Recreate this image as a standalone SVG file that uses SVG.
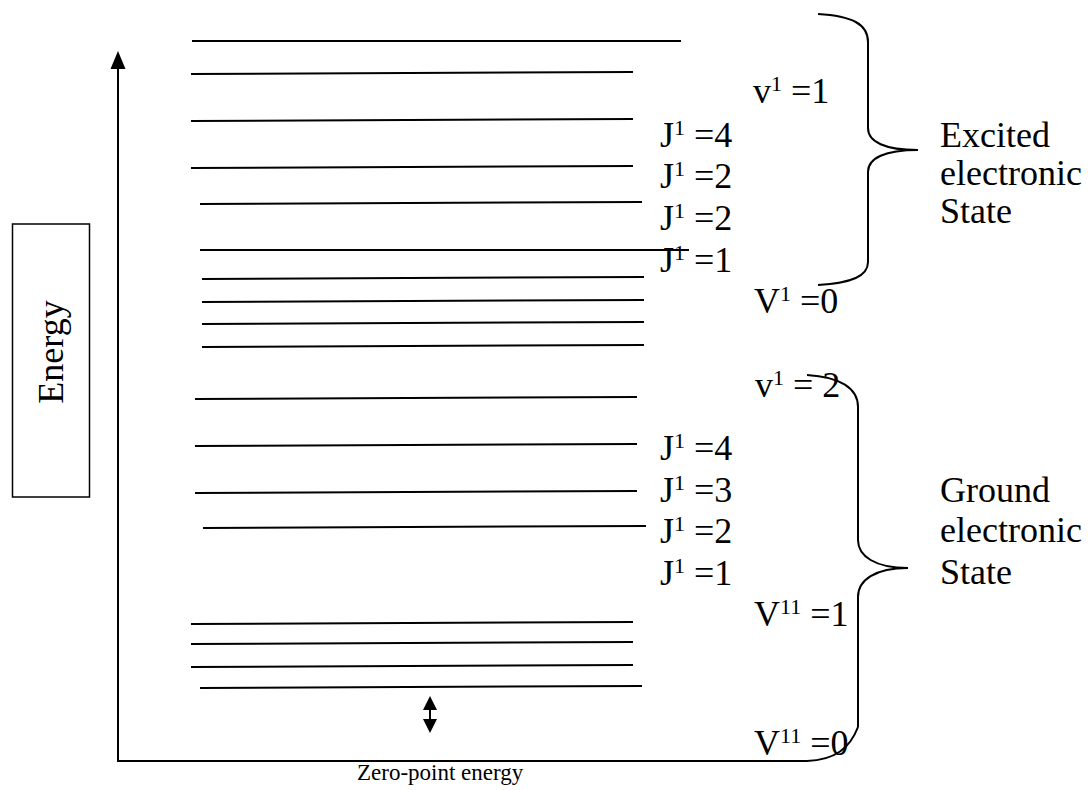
<svg xmlns="http://www.w3.org/2000/svg" width="1088" height="790" viewBox="0 0 1088 790">
<defs>
<style>
.t{font-family:"Liberation Serif","Times New Roman",serif;font-size:36px;fill:#000}
.s{font-size:22px}
.z{font-family:"Liberation Serif","Times New Roman",serif;font-size:23px;fill:#000}
.lv{stroke:#000;stroke-width:2;fill:none}
.br{stroke:#000;stroke-width:2;fill:none}
</style>
</defs>
<rect width="1088" height="790" fill="#fff"/>

<g id="energy-label">
<rect x="12.5" y="224" width="77" height="273" fill="none" stroke="#000" stroke-width="1.5"/>
<text class="t" transform="translate(63,352) rotate(-90)" text-anchor="middle">Energy</text>
</g>

<g id="connectors">
<line x1="118" y1="761" x2="118" y2="66" stroke="#000" stroke-width="2"/>
<polygon points="118,51 110.5,69 125.5,69" fill="#000"/>
<path d="M117,761 L807,761 C835,760 850,748 858,727" class="br"/>
<line x1="430" y1="708" x2="430" y2="721" stroke="#000" stroke-width="2"/>
<polygon points="430,696 423,710 437,710" fill="#000"/>
<polygon points="430,733 423,719 437,719" fill="#000"/>
</g>

<g id="excited-levels" class="lv">
<line x1="192" y1="41" x2="681" y2="41"/>
<line x1="191" y1="74" x2="633" y2="72"/>
<line x1="191" y1="121" x2="633" y2="119"/>
<line x1="191" y1="168" x2="633" y2="166"/>
<line x1="200" y1="204" x2="642" y2="202"/>
<line x1="200" y1="250" x2="689" y2="250"/>
<line x1="202" y1="279" x2="644" y2="277"/>
<line x1="202" y1="302" x2="644" y2="300"/>
<line x1="202" y1="324" x2="644" y2="322"/>
<line x1="202" y1="347" x2="644" y2="345"/>
</g>

<g id="ground-levels" class="lv">
<line x1="195" y1="399" x2="637" y2="397"/>
<line x1="195" y1="446" x2="637" y2="444"/>
<line x1="195" y1="493" x2="637" y2="491"/>
<line x1="203" y1="528" x2="646" y2="526"/>
<line x1="191" y1="624" x2="633" y2="622"/>
<line x1="191" y1="644" x2="633" y2="642"/>
<line x1="191" y1="667" x2="633" y2="665"/>
<line x1="200" y1="688" x2="642" y2="686"/>
</g>

<g id="excited-labels">
<text class="t" x="753" y="103">v<tspan class="s" dy="-12">1</tspan><tspan dy="12"> =1</tspan></text>
<text class="t" x="660" y="147">J<tspan class="s" dy="-12">1</tspan><tspan dy="12"> =4</tspan></text>
<text class="t" x="660" y="188">J<tspan class="s" dy="-12">1</tspan><tspan dy="12"> =2</tspan></text>
<text class="t" x="660" y="230">J<tspan class="s" dy="-12">1</tspan><tspan dy="12"> =2</tspan></text>
<text class="t" x="660" y="272">J<tspan class="s" dy="-12">1</tspan><tspan dy="12"> =1</tspan></text>
<text class="t" x="754" y="313">V<tspan class="s" dy="-12">1</tspan><tspan dy="12"> =0</tspan></text>
</g>

<g id="ground-labels">
<text class="t" x="755" y="397">v<tspan class="s" dy="-12">1</tspan><tspan dy="12"> = 2</tspan></text>
<text class="t" x="660" y="460">J<tspan class="s" dy="-12">1</tspan><tspan dy="12"> =4</tspan></text>
<text class="t" x="660" y="502">J<tspan class="s" dy="-12">1</tspan><tspan dy="12"> =3</tspan></text>
<text class="t" x="660" y="543">J<tspan class="s" dy="-12">1</tspan><tspan dy="12"> =2</tspan></text>
<text class="t" x="660" y="585">J<tspan class="s" dy="-12">1</tspan><tspan dy="12"> =1</tspan></text>
<text class="t" x="754" y="626">V<tspan class="s" dy="-12">11</tspan><tspan dy="12"> =1</tspan></text>
<text class="t" x="754" y="755">V<tspan class="s" dy="-12">11</tspan><tspan dy="12"> =0</tspan></text>
</g>

<g id="excited-brace">
<path class="br" d="M818,14 C852,16 868,24 868,42 L868,128 C868,142 885,150 918,150 C885,150 868,158 868,172 L868,262 C868,276 852,283 818,285"/>
<text class="t" x="940" y="147">Excited</text>
<text class="t" x="940" y="185">electronic</text>
<text class="t" x="940" y="223">State</text>
</g>

<g id="ground-brace">
<path class="br" d="M807,375 C840,377 858,388 858,407 L858,540 C858,556 875,568 908,568 C875,568 858,580 858,597 L858,727"/>
<text class="t" x="940" y="502">Ground</text>
<text class="t" x="940" y="542">electronic</text>
<text class="t" x="940" y="584">State</text>
</g>

<g id="zero-point-label">
<text class="z" x="357" y="780">Zero-point energy</text>
</g>
</svg>
